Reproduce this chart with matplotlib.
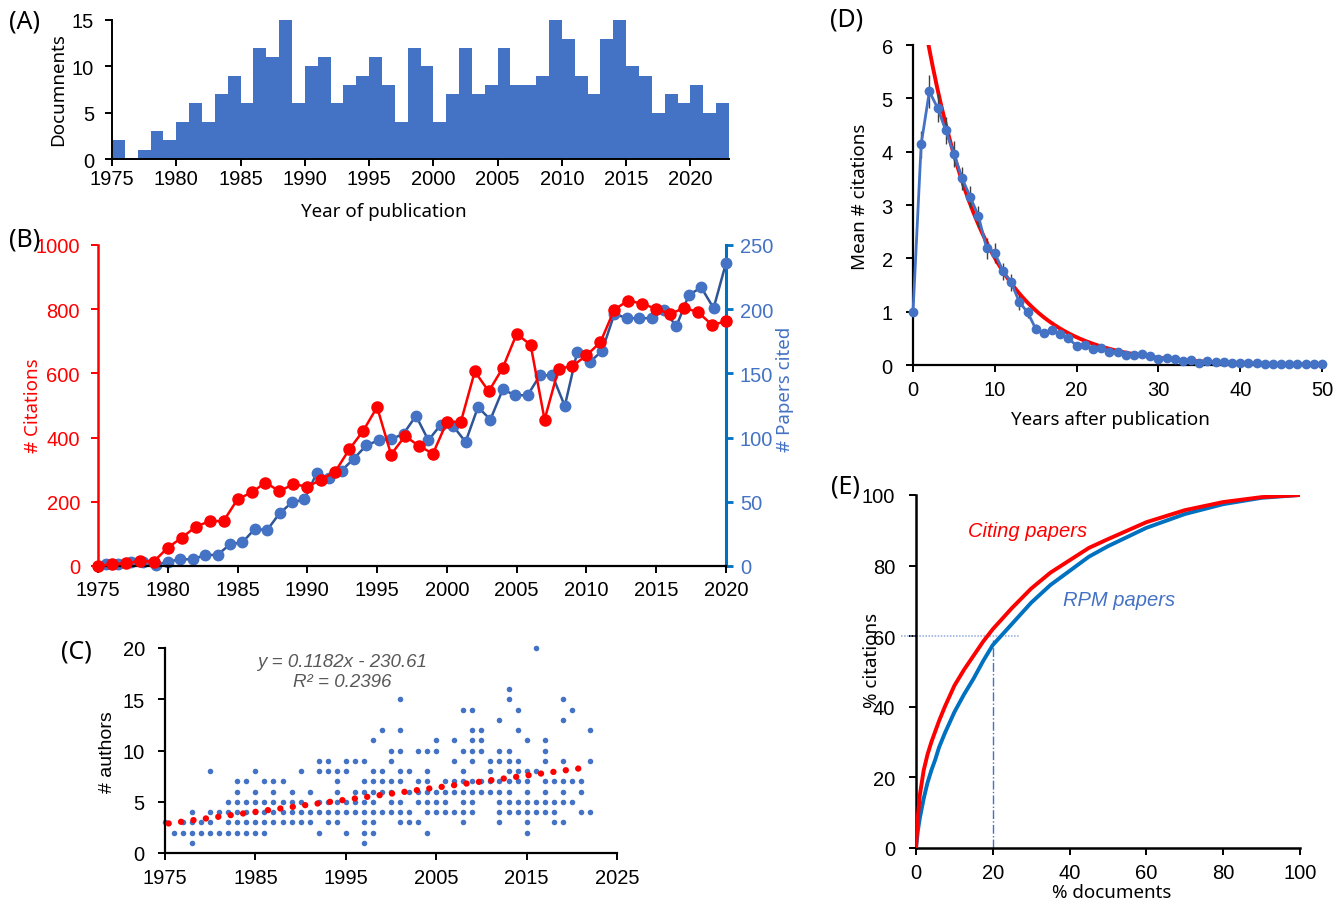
import numpy as np
import matplotlib
matplotlib.use('Agg')
import matplotlib.pyplot as plt

# ---------------- data ----------------
# (A) documents per year of publication
pub_years = list(range(1975, 2023))
documents = [2, 0, 1, 3, 2, 4, 6, 4, 7, 9, 6, 12, 11, 15, 6, 10, 11, 6, 8, 9,
             11, 8, 4, 12, 10, 4, 7, 12, 7, 8, 12, 8, 8, 9, 15, 13, 9, 7, 13, 15,
             10, 9, 5, 7, 6, 8, 5, 6]

# (B) citations per year (left axis) and papers cited (right axis, own category axis)
cit_years = list(range(1975, 2021))
citations = [0, 6, 8, 16, 14, 57, 88, 122, 140, 140,
             208, 229, 260, 233, 255, 247, 269, 294, 363, 421,
             495, 347, 405, 374, 350, 449, 449, 606, 544, 617,
             723, 689, 456, 614, 623, 656, 697, 799, 827, 817,
             801, 785, 804, 791, 751, 762]
papers_cited = [1.6, 1.6, 3.4, 3.4, 0.8, 3.4, 5.2, 5.2, 8.6, 8.6,
                16.9, 18.4, 28.8, 28, 41, 49.5, 51.8, 72.5, 68.5, 74.3,
                83.7, 94, 97.9, 98.7, 103, 117, 97.9, 110, 109, 96.6,
                123.8, 114, 137.5, 133, 133, 148.5, 148.5, 124.6, 166.6, 158.8,
                167.4, 196.4, 193, 193, 193, 199, 186.8, 211, 217, 200.8, 236]
cited_categories = list(range(len(papers_cited)))

# (C) number of authors per paper, grouped by year
author_years = list(range(1975, 2023))
authors_by_year = [
    [3], [2], [2, 3], [1, 2, 3, 4], [2, 3], [2, 3, 4, 8], [2, 4], [2, 3, 4, 5],
    [2, 3, 4, 5, 6, 7], [2, 3, 4, 5, 7], [2, 3, 4, 5, 6, 8], [2, 3, 4, 5, 7],
    [3, 4, 5, 6, 7], [3, 4, 5, 7], [3, 4, 5, 6], [3, 4, 5, 8], [3, 4, 6],
    [2, 4, 5, 8, 9], [3, 4, 5, 8, 9], [3, 4, 5, 6, 7, 8], [2, 4, 5, 8, 9],
    [4, 5, 6, 9], [1, 2, 3, 4, 5, 6, 7, 9], [2, 3, 4, 5, 6, 7, 8, 11],
    [4, 6, 7, 8, 12], [4, 5, 6, 7, 9, 10], [3, 4, 5, 7, 8, 10, 12, 15],
    [3, 4, 6, 8], [3, 5, 6, 7, 10], [2, 4, 5, 6, 7, 8, 10], [4, 5, 6, 10, 11],
    [4, 5, 6, 7], [4, 6, 7, 9, 11], [3, 4, 5, 6, 7, 8, 10, 14],
    [4, 5, 6, 7, 9, 10, 11, 12, 14], [6, 7, 10, 11, 12], [6, 7, 8, 9],
    [3, 4, 5, 6, 7, 9, 10, 13], [4, 5, 6, 7, 8, 9, 10, 15, 16],
    [4, 5, 7, 8, 9, 12, 14], [2, 3, 4, 5, 6, 7, 8, 11], [4, 5, 8, 20],
    [4, 5, 6, 7, 9, 10, 11], [3, 4, 5, 7], [3, 5, 6, 7, 9, 13, 15],
    [5, 7, 14], [4, 6, 7], [4, 9, 12]]
trend_slope = 0.1182
trend_intercept = -230.61
trend_range = [1975.4, 2021.3]

# (D) mean citations vs years after publication
d_years = list(range(0, 51))
d_mean = [0.99, 4.14, 5.13, 4.82, 4.4, 3.96, 3.5, 3.15, 2.79, 2.19,
          2.1, 1.76, 1.55, 1.18, 0.99, 0.68, 0.6, 0.65, 0.58, 0.5,
          0.36, 0.38, 0.3, 0.31, 0.25, 0.25, 0.19, 0.18, 0.21, 0.17,
          0.12, 0.14, 0.11, 0.08, 0.09, 0.04, 0.07, 0.05, 0.05, 0.04,
          0.03, 0.03, 0.03, 0.01, 0.01, 0.01, 0.01, 0.02, 0.01, 0.01, 0.01]
d_err = [0, 0.25, 0.31, 0.27, 0.25, 0.24, 0.21, 0.2, 0.2, 0.2,
         0.19, 0.16, 0.16, 0.14, 0.1, 0.08, 0.06, 0.06, 0.06, 0.05,
         0.05, 0.05, 0.04, 0.04, 0.04, 0.03, 0.03, 0.03, 0.03, 0.03,
         0.03, 0.05, 0.03, 0.03, 0.05, 0.02, 0.02, 0.02, 0.02, 0.02,
         0.02, 0.02, 0.02, 0.01, 0.01, 0.01, 0.01, 0.03, 0.01, 0.01, 0.01]
fit_A = 7.75
fit_k = 0.135

# (E) cumulative % citations vs % documents
e_docs = [0, 0.5, 1, 2, 3, 4, 5, 6, 7.5, 10, 12.5, 15, 17.5, 20, 25, 30, 35,
          40, 45, 50, 60, 70, 80, 90, 100]
e_citing = [0, 9, 15, 22, 26.5, 30, 33, 36, 40, 46, 50.5, 54.5, 58.5, 62, 68,
            73.5, 78, 81.5, 85, 87.5, 92.3, 95.7, 98, 99.4, 100]
e_rpm = [0, 5, 8.5, 14, 18.5, 22, 25, 28.5, 32.5, 38.5, 43.5, 48, 53, 57.5, 63.5,
         69.5, 74.5, 78.5, 82.5, 85.5, 90.7, 94.6, 97.4, 99.2, 100]
e_guide_x = 20
e_guide_y = 60

# ---------------- style ----------------
W, H = 1343, 904
fig = plt.figure(figsize=(W / 100, H / 100), dpi=100)

NARROW = ['Liberation Sans Narrow', 'Liberation Sans', 'DejaVu Sans']
ARIAL = ['Liberation Sans', 'DejaVu Sans']
LABEL = ['Noto Sans', 'DejaVu Sans']
RED = '#FF0000'
BLUE = '#4472C4'
BLUE2 = '#0070C0'
NAVY = '#2F5597'


def rect(l, t, r, b):
    return [l / W, 1 - b / H, (r - l) / W, (b - t) / H]


def ftext(x, y, s, **kw):
    kw.setdefault('ha', 'center')
    kw.setdefault('va', 'center')
    fig.text(x / W, 1 - y / H, s, **kw)


def style_ticks(ax, family, size, xpad, ypad):
    ax.tick_params(axis='both', direction='out', length=5, width=1.4, labelsize=size)
    ax.tick_params(axis='x', pad=xpad)
    ax.tick_params(axis='y', pad=ypad)
    for t in ax.get_xticklabels() + ax.get_yticklabels():
        t.set_fontfamily(family)


# ---------------- (A) ----------------
axA = fig.add_axes(rect(112, 21, 729, 160))
axA.bar(pub_years, documents, width=1.0, align='edge', color=BLUE, linewidth=0)
axA.set_xlim(1975, 2023)
axA.set_ylim(0, 15)
axA.set_xticks(range(1975, 2021, 5))
axA.set_yticks([0, 5, 10, 15])
for s in ['top', 'right']:
    axA.spines[s].set_visible(False)
for s in ['left', 'bottom']:
    axA.spines[s].set_linewidth(1.4)
style_ticks(axA, NARROW, 14.5, 2.5, 8)
ftext(25, 22, '(A)', fontsize=18, family=LABEL)
ftext(58, 90, 'Documnents', fontsize=13.5, family=LABEL, rotation=90)
ftext(384, 212, 'Year of publication', fontsize=13.5, family=LABEL)

# ---------------- (B) ----------------
b_rect = rect(98, 246, 726, 567)
axB2 = fig.add_axes(b_rect)
axB2.plot(cited_categories, papers_cited, color=NAVY, lw=1.8, marker='o', ms=7.5,
          mfc=BLUE, mec=BLUE, clip_on=False, zorder=3)
axB2.set_xlim(-0.64, 50)
axB2.set_ylim(0, 250)
axB2.set_xticks([])
axB2.yaxis.tick_right()
axB2.yaxis.set_label_position('right')
axB2.set_yticks(range(0, 251, 50))
for s in ['top', 'left', 'bottom']:
    axB2.spines[s].set_visible(False)
axB2.spines['right'].set_color(BLUE2)
axB2.spines['right'].set_linewidth(2.2)
axB2.tick_params(axis='y', direction='out', length=5, width=2, color=BLUE2,
                 labelcolor=BLUE, labelsize=14.5, pad=5)
for t in axB2.get_yticklabels():
    t.set_fontfamily(NARROW)

axB = fig.add_axes(b_rect)
axB.patch.set_alpha(0)
axB.plot(cit_years, citations, color=RED, lw=1.8, marker='o', ms=8,
         clip_on=False, zorder=3)
axB.set_xlim(1975, 2020)
axB.set_ylim(0, 1000)
axB.set_xticks(range(1975, 2021, 5))
axB.set_yticks(range(0, 1001, 200))
for s in ['top', 'right']:
    axB.spines[s].set_visible(False)
axB.spines['left'].set_color(RED)
axB.spines['left'].set_linewidth(1.8)
axB.spines['bottom'].set_linewidth(1.6)
style_ticks(axB, NARROW, 14.5, 5, 8)
axB.tick_params(axis='y', color=RED, labelcolor=RED)
ftext(25, 240, '(B)', fontsize=18, family=LABEL)
ftext(33, 406, '# Citations', fontsize=13.5, family=LABEL, rotation=90, color=RED)
ftext(785, 389, '# Papers cited', fontsize=13.5, family=LABEL, rotation=90, color=BLUE)

# ---------------- (C) ----------------
axC = fig.add_axes(rect(165, 649, 617, 854))
for yr, vals in zip(author_years, authors_by_year):
    axC.plot([yr] * len(vals), vals, 'o', color=BLUE, ms=4, mew=0, clip_on=False)
tx = np.array(trend_range)
axC.plot(tx, trend_slope * tx + trend_intercept, color=RED, lw=4.6,
         linestyle=(0, (0.01, 1.95)), dash_capstyle='round', zorder=4)
axC.set_xlim(1975, 2025)
axC.set_ylim(0, 20)
axC.set_xticks(range(1975, 2026, 10))
axC.set_yticks(range(0, 21, 5))
for s in ['top', 'right']:
    axC.spines[s].set_visible(False)
for s in ['left', 'bottom']:
    axC.spines[s].set_linewidth(1.6)
style_ticks(axC, ARIAL, 14.5, 6, 9.5)
axC.text(1994.6, 18.7, 'y = 0.1182x - 230.61', ha='center', va='center',
         style='italic', color='#595959', fontsize=13.5, family=ARIAL)
axC.text(1994.6, 16.7, 'R² = 0.2396', ha='center', va='center',
         style='italic', color='#595959', fontsize=13.5, family=ARIAL)
ftext(76, 652, '(C)', fontsize=18, family=LABEL)
ftext(108, 752, '# authors', fontsize=14, family=ARIAL, rotation=90)

# ---------------- (D) ----------------
axD = fig.add_axes(rect(913, 46, 1322, 366))
dx = np.linspace(0, 50, 400)
axD.plot(dx, fit_A * np.exp(-fit_k * dx), color=RED, lw=2.8, zorder=2)
axD.errorbar(d_years, d_mean, yerr=d_err, color=BLUE, lw=2, marker='o', ms=6,
             ecolor='#404040', elinewidth=1, capsize=0, zorder=3, clip_on=False)
axD.set_xlim(0, 50)
axD.set_ylim(0, 6)
axD.set_xticks(range(0, 51, 10))
axD.set_yticks(range(0, 7))
for s in ['top', 'right']:
    axD.spines[s].set_visible(False)
for s in ['left', 'bottom']:
    axD.spines[s].set_linewidth(1.6)
style_ticks(axD, ARIAL, 14.5, 6, 9.5)
ftext(847, 20, '(D)', fontsize=18, family=LABEL)
ftext(860, 197, 'Mean # citations', fontsize=13.5, family=LABEL, rotation=90)
ftext(1110, 420, 'Years after publication', fontsize=13.5, family=LABEL)

# ---------------- (E) ----------------
axE = fig.add_axes(rect(916, 496, 1300, 849))
axE.plot(e_docs, e_rpm, color=BLUE2, lw=2.8, zorder=3, solid_joinstyle='round')
axE.plot(e_docs, e_citing, color=RED, lw=2.8, zorder=4, solid_joinstyle='round')
axE.plot([-4, 27.2], [e_guide_y, e_guide_y], color='#8FAADC', lw=1.1,
         linestyle=(0, (1, 1)), clip_on=False, zorder=2)
axE.plot([e_guide_x, e_guide_x], [0, 59], color=BLUE, lw=1,
         linestyle='dashdot', zorder=2)
axE.set_xlim(0, 100)
axE.set_ylim(0, 100)
axE.set_xticks(range(0, 101, 20))
axE.set_yticks(range(0, 101, 20))
for s in ['top', 'right']:
    axE.spines[s].set_visible(False)
for s in ['left', 'bottom']:
    axE.spines[s].set_linewidth(1.8)
style_ticks(axE, ARIAL, 14.5, 6, 10)
axE.text(29, 90, 'Citing papers', ha='center', va='center', style='italic',
         color=RED, fontsize=14.5, family=ARIAL)
axE.text(53, 70.5, 'RPM papers', ha='center', va='center', style='italic',
         color=BLUE, fontsize=14.5, family=ARIAL)
ftext(845, 487, '(E)', fontsize=18, family=LABEL)
ftext(1112, 893, '% documents', fontsize=13.5, family=LABEL)
ftext(872, 660, '% citations', fontsize=13.5, family=LABEL, rotation=90)

fig.savefig('out.png', dpi=100)
